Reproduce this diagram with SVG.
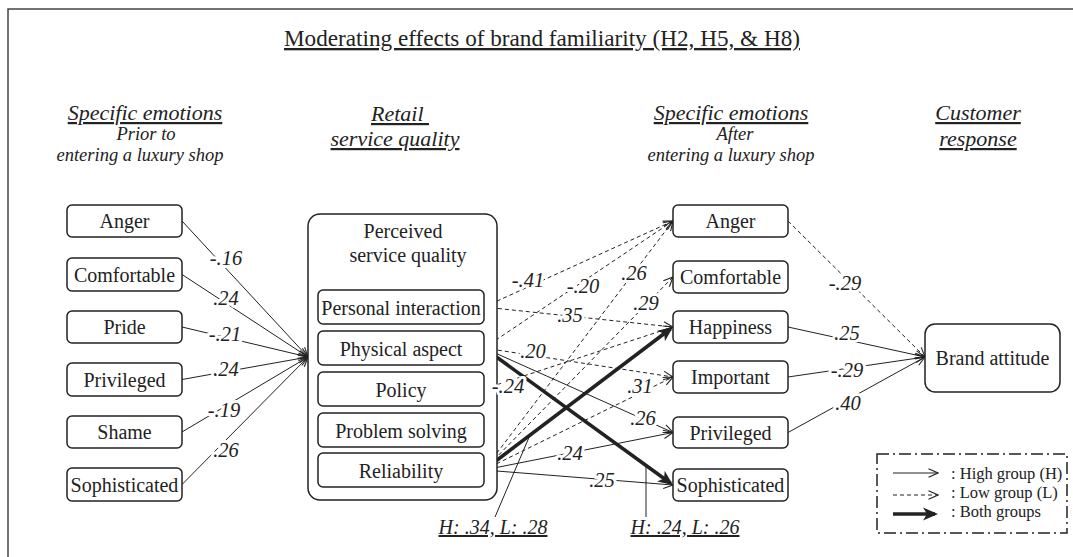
<svg xmlns="http://www.w3.org/2000/svg" width="1073" height="557" viewBox="0 0 1073 557">
<style>
text{font-family:"Liberation Serif","Times New Roman",serif;fill:#222}
.hd{font-style:italic;font-size:22px;text-anchor:middle;text-decoration:underline}
.sub{font-style:italic;font-size:18.5px;text-anchor:middle}
.nt{font-size:20px;text-anchor:middle}
.lb{font-style:italic;font-size:20.5px;text-anchor:middle;stroke:#fff;stroke-width:6;stroke-linejoin:round;paint-order:stroke}
.bl{font-style:italic;font-size:20px;text-anchor:middle;text-decoration:underline}
.lg{font-size:16.5px}
.box{fill:#fff;stroke:#222;stroke-width:1.5}
.h{fill:none;stroke:#222;stroke-width:1;marker-end:url(#oa)}
.l{fill:none;stroke:#222;stroke-width:1;stroke-dasharray:4 3;marker-end:url(#oa)}
.b{fill:none;stroke:#222;stroke-width:3.6;marker-end:url(#fa)}
.ld{fill:none;stroke:#222;stroke-width:1}
</style>
<defs>
<marker id="oa" markerUnits="userSpaceOnUse" markerWidth="11" markerHeight="10" viewBox="0 0 11 10" refX="10" refY="5" orient="auto">
<path d="M0.5,0.8 L10,5 L0.5,9.2" fill="none" stroke="#222" stroke-width="1.1"/>
</marker>
<marker id="fa" markerUnits="userSpaceOnUse" markerWidth="16" markerHeight="14" viewBox="0 0 16 14" refX="12" refY="7" orient="auto">
<path d="M0,0.5 L15,7 L0,13.5 L4,7 z" fill="#222"/>
</marker>
</defs>
<path d="M8,557 V9 H1073" fill="none" stroke="#444" stroke-width="1.5"/>
<g id="headings">
<text x="542" y="46" style="font-size:23.2px;text-decoration:underline;text-anchor:middle">Moderating effects of brand familiarity (H2, H5, &amp; H8)</text>
<text class="hd" x="145" y="120">Specific emotions</text>
<text class="sub" x="146" y="140">Prior to</text>
<text class="sub" x="140" y="161">entering a luxury shop</text>
<text class="hd" x="400" y="121">Retail&#160;</text>
<text class="hd" x="395" y="146">service quality</text>
<text class="hd" x="731" y="120">Specific emotions</text>
<text class="sub" x="735" y="140">After</text>
<text class="sub" x="731" y="161">entering a luxury shop</text>
<text class="hd" x="978" y="120">Customer</text>
<text class="hd" x="978" y="146">response</text>
</g>
<g id="connectors">
<path class="h" d="M182,221 L308,357"/>
<path class="h" d="M182,274.5 L308,357"/>
<path class="h" d="M182,327 L308,357"/>
<path class="h" d="M182,379.5 L308,357"/>
<path class="h" d="M182,432 L308,357"/>
<path class="h" d="M182,484.5 L308,357"/>
<path class="l" d="M484,307 L673,221"/>
<path class="l" d="M484,307 L673,327"/>
<path class="l" d="M484,348 L673,221"/>
<path class="l" d="M484,348 L673,377"/>
<path class="h" d="M484,348 L673,432.5"/>
<path class="b" d="M484,348 L670.6,483.2"/>
<path class="l" d="M484,389 L673,327"/>
<path class="l" d="M484,470 L673,221"/>
<path class="l" d="M484,470 L673,277"/>
<path class="l" d="M484,470 L673,377"/>
<path class="b" d="M484,470 L670.6,328.8"/>
<path class="h" d="M484,470 L673,432.5"/>
<path class="h" d="M484,470 L673,485"/>
<path class="l" d="M788,221 L925,357"/>
<path class="h" d="M788,327 L925,357"/>
<path class="h" d="M788,377 L925,357"/>
<path class="h" d="M788,432.5 L925,357"/>
<path class="ld" d="M495,517 L530,435"/>
<path class="ld" d="M646,465 L646,517"/>
</g>
<g id="prior-emotions">
<g id="p-anger"><rect class="box" x="67" y="205" width="115" height="32" rx="5"/><text class="nt" x="124.5" y="228">Anger</text></g>
<g id="p-comfortable"><rect class="box" x="67" y="258" width="115" height="33" rx="5"/><text class="nt" x="124.5" y="281.5">Comfortable</text></g>
<g id="p-pride"><rect class="box" x="67" y="311" width="115" height="32" rx="5"/><text class="nt" x="124.5" y="334">Pride</text></g>
<g id="p-privileged"><rect class="box" x="67" y="363" width="115" height="33" rx="5"/><text class="nt" x="124.5" y="386.5">Privileged</text></g>
<g id="p-shame"><rect class="box" x="67" y="416" width="115" height="32" rx="5"/><text class="nt" x="124.5" y="439">Shame</text></g>
<g id="p-sophisticated"><rect class="box" x="67" y="468" width="115" height="33" rx="5"/><text class="nt" x="124.5" y="491.5">Sophisticated</text></g>
</g>
<g id="service-quality">
<rect class="box" x="308" y="214" width="189" height="286" rx="12"/>
<text class="nt" x="403" y="238">Perceived</text>
<text class="nt" x="408" y="262">service quality</text>
<g id="sq-personal"><rect class="box" x="318" y="290" width="166" height="34" rx="5"/><text class="nt" x="401" y="314.5">Personal interaction</text></g>
<g id="sq-physical"><rect class="box" x="318" y="331" width="166" height="34" rx="5"/><text class="nt" x="401" y="355.5">Physical aspect</text></g>
<g id="sq-policy"><rect class="box" x="318" y="372" width="166" height="34" rx="5"/><text class="nt" x="401" y="396.5">Policy</text></g>
<g id="sq-problem"><rect class="box" x="318" y="413" width="166" height="34" rx="5"/><text class="nt" x="401" y="437.5">Problem solving</text></g>
<g id="sq-reliability"><rect class="box" x="318" y="453" width="166" height="34" rx="5"/><text class="nt" x="401" y="477.5">Reliability</text></g>
</g>
<g id="after-emotions">
<g id="a-anger"><rect class="box" x="673" y="205" width="115" height="32" rx="5"/><text class="nt" x="730.5" y="228">Anger</text></g>
<g id="a-comfortable"><rect class="box" x="673" y="261" width="115" height="32" rx="5"/><text class="nt" x="730.5" y="284">Comfortable</text></g>
<g id="a-happiness"><rect class="box" x="673" y="311" width="115" height="32" rx="5"/><text class="nt" x="730.5" y="334">Happiness</text></g>
<g id="a-important"><rect class="box" x="673" y="361" width="115" height="32" rx="5"/><text class="nt" x="730.5" y="384">Important</text></g>
<g id="a-privileged"><rect class="box" x="673" y="417" width="115" height="31" rx="5"/><text class="nt" x="730.5" y="439.5">Privileged</text></g>
<g id="a-sophisticated"><rect class="box" x="673" y="469" width="115" height="32" rx="5"/><text class="nt" x="730.5" y="492">Sophisticated</text></g>
</g>
<g id="brand-attitude"><rect class="box" x="925" y="324" width="135" height="68" rx="10"/><text class="nt" x="992.5" y="365">Brand attitude</text></g>
<g id="labels">
<text class="lb" x="226" y="265">-.16</text>
<text class="lb" x="226" y="305">.24</text>
<text class="lb" x="225" y="341">-.21</text>
<text class="lb" x="226" y="376">.24</text>
<text class="lb" x="224" y="417">-.19</text>
<text class="lb" x="226" y="457">.26</text>
<text class="lb" x="528" y="287">-.41</text>
<text class="lb" x="583" y="293">-.20</text>
<text class="lb" x="634" y="280">.26</text>
<text class="lb" x="646" y="310">.29</text>
<text class="lb" x="570" y="322">.35</text>
<text class="lb" x="533" y="358">.20</text>
<text class="lb" x="508" y="393">-.24</text>
<text class="lb" x="640" y="393">.31</text>
<text class="lb" x="643" y="425">.26</text>
<text class="lb" x="570" y="460">.24</text>
<text class="lb" x="602" y="487">.25</text>
<text class="lb" x="845" y="290">-.29</text>
<text class="lb" x="847" y="340">.25</text>
<text class="lb" x="847" y="377">-.29</text>
<text class="lb" x="848" y="410">.40</text>
<text class="bl" x="493" y="534">H: .34, L: .28</text>
<text class="bl" x="685" y="534">H: .24, L: .26</text>
</g>
<g id="legend">
<rect x="877" y="454" width="190" height="79" fill="none" stroke="#222" stroke-width="1.5" stroke-dasharray="12 4 2 4"/>
<path class="h" d="M893,473 L938,473"/>
<path class="l" d="M893,495 L938,495"/>
<path class="b" d="M893,514 L935,514"/>
<text class="lg" x="951" y="479">: High group (H)</text>
<text class="lg" x="951" y="498">: Low group (L)</text>
<text class="lg" x="951" y="517">: Both groups</text>
</g>
</svg>
